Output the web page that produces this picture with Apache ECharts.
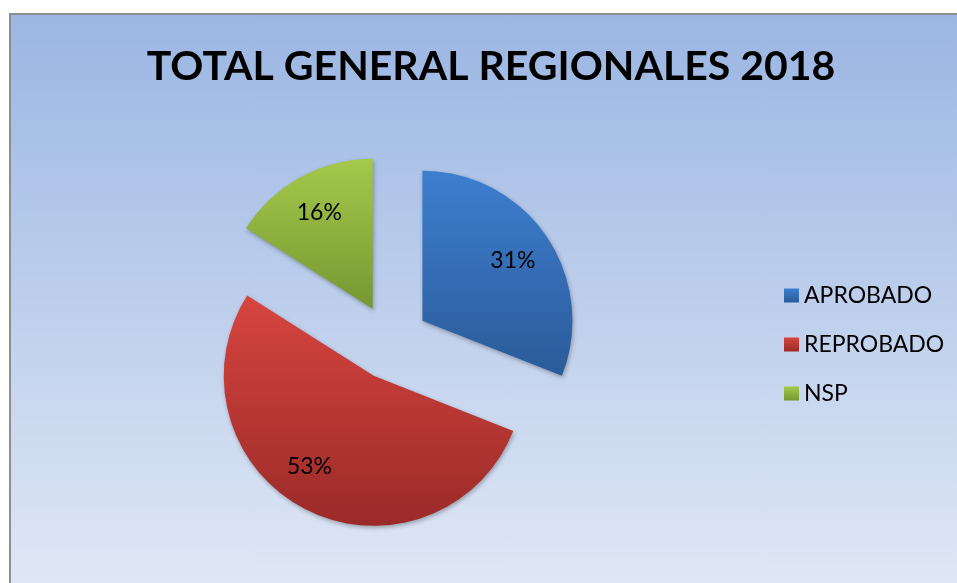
<!DOCTYPE html>
<html>
<head>
<meta charset="utf-8">
<script src="https://cdn.jsdelivr.net/npm/echarts@6/dist/echarts.min.js"></script>
<style>
  html, body { margin: 0; padding: 0; background: #fff; }
  #main {
    position: absolute; left: 9px; top: 13px;
    width: 946px; height: 568px;
    border-left: 2px solid #8e8e8e; border-top: 2px solid #8e8e8e;
    background: linear-gradient(to bottom, #9bb6e3, #dfe7f5);
  }
</style>
</head>
<body>
<div id="main"></div>
<script>
// datos del grafico
const categorias = ['APROBADO', 'REPROBADO', 'NSP'];
const porcentajes = [31, 53, 16];
const colores = [
  ['#3d7ecf', '#2b5b99'],
  ['#d7453f', '#9a2a28'],
  ['#a4c94b', '#779731']
];
// ajuste fino de etiquetas (como las deja Excel)
const paddingEtiqueta = [[0, 6, 0, 0], [0, 26, 0, 0], [0, 0, 0, 2]];
const formatoEtiqueta = ['\n{c}%', '{c}%\n', '\n{c}%'];
const altoLinea = [6, 20, 6];

const chart = echarts.init(document.getElementById('main'));

const grad = (c) => new echarts.graphic.LinearGradient(0, 0, 0, 1, [
  { offset: 0, color: c[0] }, { offset: 1, color: c[1] }
]);

const datos = categorias.map((n, i) => ({
  name: n,
  value: porcentajes[i],
  selected: true,
  itemStyle: { color: grad(colores[i]) }
}));

// capa transparente solo para ubicar las etiquetas
const etiquetas = categorias.map((n, i) => ({
  name: n,
  value: porcentajes[i],
  selected: true,
  itemStyle: { color: 'rgba(0,0,0,0)' },
  label: { padding: paddingEtiqueta[i], formatter: formatoEtiqueta[i], lineHeight: altoLinea[i] }
}));

const option = {
  animation: false,
  title: {
    text: 'TOTAL GENERAL REGIONALES 2018',
    left: 475, top: 26, textAlign: 'center',
    textStyle: { fontFamily: 'Lato', fontWeight: 'bold', fontSize: 41, color: '#000' }
  },
  legend: {
    orient: 'vertical',
    left: 768, top: 264,
    itemWidth: 15, itemHeight: 14, itemGap: 26,
    icon: 'rect',
    selectedMode: false,
    textStyle: { fontFamily: 'Lato', fontSize: 23, color: '#000' },
    data: categorias
  },
  series: [
    {
      type: 'pie',
      center: [380, 327],
      radius: 150,
      startAngle: 90,
      selectedMode: 'multiple',
      selectedOffset: 38,
      silent: true,
      label: { show: false },
      labelLine: { show: false },
      itemStyle: { shadowBlur: 4, shadowColor: 'rgba(0,0,0,0.3)', shadowOffsetX: 1, shadowOffsetY: 2 },
      data: datos
    },
    {
      type: 'pie',
      center: [380, 327],
      radius: 220,
      startAngle: 90,
      selectedMode: 'multiple',
      selectedOffset: 38,
      silent: true,
      label: {
        show: true, position: 'inside',
        fontFamily: 'Lato', fontSize: 23, color: '#000'
      },
      labelLine: { show: false },
      data: etiquetas
    }
  ]
};
chart.setOption(option);
</script>
</body>
</html>
